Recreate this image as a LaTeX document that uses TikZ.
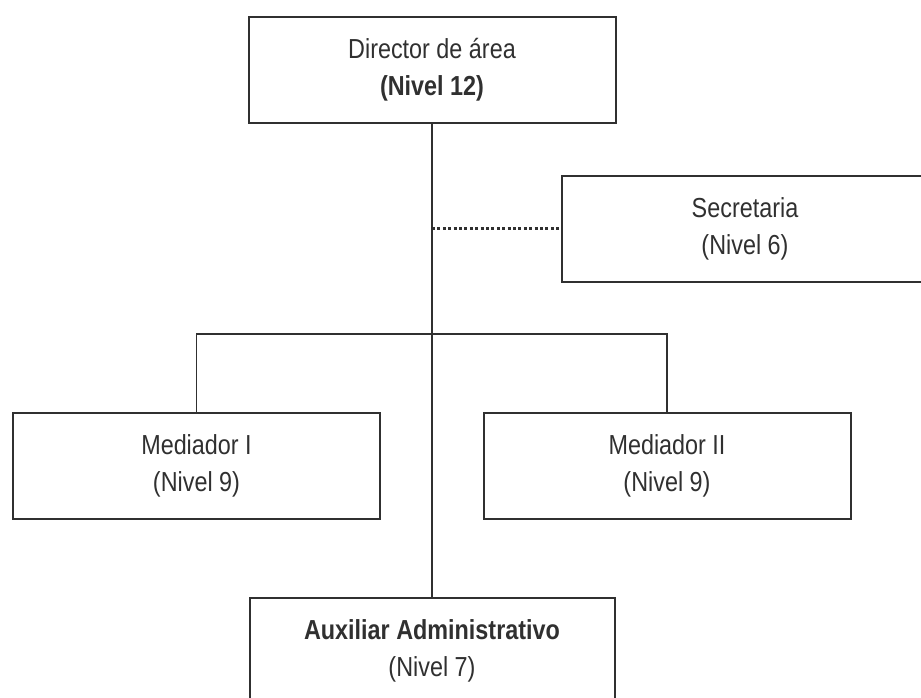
\documentclass[tikz,border=0pt]{standalone}
\usepackage{fontspec}
\setmainfont{Liberation Sans}[FakeStretch=0.85]
\definecolor{tinta}{HTML}{303030}
\begin{document}
\begin{tikzpicture}[x=1pt,y=-1pt,
  puesto/.style={draw=tinta, line width=2pt, rectangle, minimum width=367pt, minimum height=106pt, align=center, text=tinta, font=\fontsize{27.5}{37}\selectfont, inner sep=0pt},
  rama/.style={draw=tinta, line width=1.6pt}]
\clip (0,0) rectangle (921,697);
\node[puesto] (dir) at (432,70){Director de área\\\textbf{(Nivel 12)}};
\node[puesto] (sec) at (745,228.5){Secretaria\\(Nivel 6)};
\node[puesto] (med1) at (196.5,466){Mediador I\\(Nivel 9)};
\node[puesto] (med2) at (667,466){Mediador II\\(Nivel 9)};
\node[puesto, minimum width=365pt] (aux) at (432,651){\textbf{Auxiliar Administrativo}\\(Nivel 7)};
\coordinate (bus) at (432,334);
\draw[rama](dir.south) -- (aux.north);
\draw[rama](med1.north) |- (bus) -| (med2.north);
\draw[rama, line width=2.4pt, dash pattern=on 3pt off 2.4pt](dir.south |- sec.west) -- (sec.west);

\end{tikzpicture}
\end{document}
